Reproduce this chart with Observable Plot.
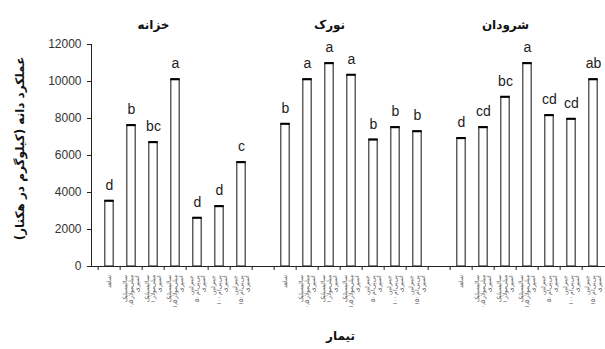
<!DOCTYPE html>
<html>
<head>
<meta charset="utf-8">
<script src="https://cdn.jsdelivr.net/npm/d3@7"></script>
<script src="https://cdn.jsdelivr.net/npm/@observablehq/plot@0.6"></script>
<style>
  html, body { margin: 0; padding: 0; background: #fff; }
  #chart svg { display: block; }
</style>
</head>
<body>
<div id="chart"></div>
<script>
// Cultivars (panels) and treatments (bars within each panel)
const cultivars = ["خزانه", "نورک", "شرودان"];
const treatments = [
  "شاهد",
  "سالیسیلیک\n۰٫۵ میلی‌مولار\nاسپری",
  "سالیسیلیک\n۱ میلی‌مولار\nاسپری",
  "سالیسیلیک\n۱٫۵ میلی‌مولار\nاسپری",
  "جیبرلین\n۵۰ پی‌پی‌ام\nاسپری",
  "جیبرلین\n۱۰۰ پی‌پی‌ام\nاسپری",
  "جیبرلین\n۱۵۰ پی‌پی‌ام\nاسپری"
];

// Mean values per cultivar, in treatment order
const khazanehValues = [3550, 7640, 6720, 10120, 2630, 3260, 5640];
const nourakValues   = [7710, 10120, 10990, 10360, 6860, 7530, 7310];
const shorudanValues = [6940, 7530, 9170, 10990, 8180, 7980, 10120];

// Mean-comparison letters
const khazanehLetters = ["d", "b", "bc", "a", "d", "d", "c"];
const nourakLetters   = ["b", "a", "a", "a", "b", "b", "b"];
const shorudanLetters = ["d", "cd", "bc", "a", "cd", "cd", "ab"];

const yTicks = [0, 2000, 4000, 6000, 8000, 10000, 12000];
const yLabel = "عملکرد دانه (کیلوگرم در هکتار)";
const xLabel = "تیمار";

// Long-format rows; an empty slot separates the cultivar panels
const valueSets = [khazanehValues, nourakValues, shorudanValues];
const letterSets = [khazanehLetters, nourakLetters, shorudanLetters];
const rows = [];
const domain = [];
cultivars.forEach((c, ci) => {
  if (ci > 0) domain.push("gap" + ci);
  treatments.forEach((t, ti) => {
    const key = c + "|" + ti;
    domain.push(key);
    rows.push({key, cultivar: c, treatment: t, value: valueSets[ci][ti], letter: letterSets[ci][ti]});
  });
});
const labelOf = new Map(rows.map(d => [d.key, d.treatment]));
const titleRows = cultivars.map(c => ({key: c + "|3", cultivar: c}));

const x0 = 90.7, x1 = 612.1;
const step = (x1 - x0) / domain.length;
const barInset = (step - 9) / 2;

const chart = Plot.plot({
  width: 605,
  height: 349,
  marginLeft: 91,
  marginRight: 0,
  marginTop: 44,
  marginBottom: 83,
  style: {fontFamily: "Liberation Sans, Arial, sans-serif", background: "#fff", overflow: "hidden"},
  x: {type: "band", domain, range: [x0, x1], padding: 0, axis: null},
  y: {domain: [0, 12000], axis: null},
  marks: [
    Plot.barY(rows, {x: "key", y: "value", fill: "#fff", stroke: "#111", strokeWidth: 1,
      insetLeft: barInset, insetRight: barInset}),
    Plot.tickY(rows, {x: "key", y: "value", stroke: "#000", strokeWidth: 2,
      insetLeft: barInset - 0.5, insetRight: barInset - 0.5}),
    Plot.text(rows, {x: "key", y: "value", text: "letter", lineAnchor: "bottom", dy: -11,
      fontSize: 14, fill: "#222", fontFamily: "Liberation Sans Narrow, Arial Narrow, Liberation Sans, sans-serif"}),
    // axes
    Plot.frame({anchor: "left", stroke: "#222"}),
    Plot.ruleY([0], {stroke: "#222"}),
    Plot.ruleX(domain, {x: d => d, y1: 0, y2: 0, dx: -step / 2, insetBottom: -4, stroke: "#222"}),
    Plot.axisY(yTicks, {tickSize: 4, tickPadding: 6, fontSize: 12, fill: "#333", stroke: "#222",
      tickFormat: d => String(d), label: null}),
    Plot.axisX({ticks: rows.map(d => d.key), tickSize: 0, tickPadding: 8, tickRotate: -90,
      tickFormat: k => labelOf.get(k) || "", fontSize: 6, fill: "#555", label: null}),
    // panel titles
    Plot.text(titleRows, {x: "key", text: "cultivar", frameAnchor: "top", dx: -22, dy: -24,
      fontSize: 12, fontWeight: "bold", fill: "#111", fontFamily: "DejaVu Sans, sans-serif"}),
    // axis titles
    Plot.text([yLabel], {text: d => d, frameAnchor: "left", textAnchor: "middle", dx: -71, dy: -7, rotate: -90,
      fontSize: 12, fontWeight: "bold", fill: "#111", fontFamily: "DejaVu Sans, sans-serif"}),
    Plot.text([xLabel], {text: d => d, frameAnchor: "bottom", dx: -8, dy: 73,
      fontSize: 12, fontWeight: "bold", fill: "#111", fontFamily: "DejaVu Sans, sans-serif"})
  ]
});
document.getElementById("chart").append(chart);
</script>
</body>
</html>
